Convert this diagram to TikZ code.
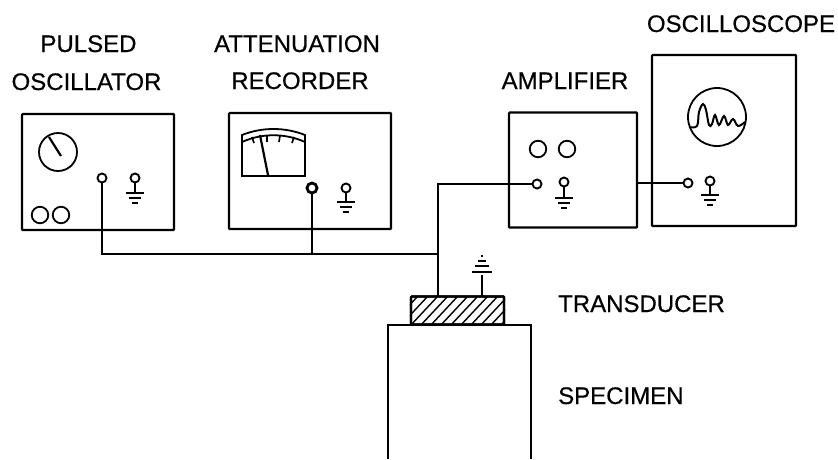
\documentclass[tikz,border=0pt]{standalone}
\usepackage{fontspec}
\setmainfont[FakeBold=0.5]{Liberation Sans}
\usetikzlibrary{calc}
\tikzset{
  panel/.style={draw, line width=2.2pt, inner sep=0pt, rounded corners=0.8pt},
  wire/.style={line width=2pt},
  term/.style={draw, circle, fill=white, line width=1.9pt, inner sep=0pt, minimum size=9pt},
  knob/.style={draw, circle, line width=1.8pt, inner sep=0pt, minimum size=16.5pt},
  dial/.style={draw, circle, line width=1.8pt, inner sep=0pt},
  lbl/.style={font=\fontsize{24}{28}\selectfont, inner sep=0pt, anchor=base},
  lblw/.style={font=\fontsize{24}{28}\selectfont, inner sep=0pt, anchor=base west}
}
% terminal with its earth bars underneath
\newcommand{\earthpost}[4]{
  \node[term] (#1) at (#2,#3) {};
  \draw[wire] (#1) -- ++(0,#4) coordinate (#1b);
  \draw[line width=1.9pt] ($(#1b)+(-9,0)$) -- ($(#1b)+(9,0)$);
  \draw[line width=1.9pt] ($(#1b)+(-6,5)$) -- ($(#1b)+(6,5)$);
  \draw[line width=2.2pt] ($(#1b)+(-3,10)$) -- ($(#1b)+(3,10)$);
}
\begin{document}
\begin{tikzpicture}[x=1pt,y=-1pt]
  \useasboundingbox (0,0) rectangle (838,459);
  % panels
  \node[panel, minimum width=152pt, minimum height=116pt] (oscbox) at (98,172) {};
  \node[panel, minimum width=162pt, minimum height=116pt] (recbox) at (310,171) {};
  \node[panel, minimum width=128pt, minimum height=115pt] (ampbox) at (573,170) {};
  \node[panel, minimum width=144pt, minimum height=171pt] (scopebox) at (724,140.5) {};
  % labels
  \node[lbl] (pulsedlbl) at (88.5,52) {PULSED};
  \node[lbl] (osclbl) at (86.5,90) {OSCILLATOR};
  \node[lbl] (attlbl) at (297,52) {ATTENUATION};
  \node[lbl] (reclbl) at (300,89) {RECORDER};
  \node[lbl] (amplbl) at (565,89) {AMPLIFIER};
  \node[lbl] (scopelbl) at (741,32) {OSCILLOSCOPE};
  \node[lblw] (translbl) at (558,312) {TRANSDUCER};
  \node[lblw] (speclbl) at (558,404) {SPECIMEN};
  % oscillator front
  \node[dial, minimum size=38pt] (oscdial) at (58,152) {};
  \draw[line width=2.2pt] (49,137) -- (61,156);
  \node[knob] (oscknoba) at (40,215) {};
  \node[knob] (oscknobb) at (61,215) {};
  \node[term] (oscout) at (102,178) {};
  \earthpost{oscgnd}{135}{178}{15}
  % recorder meter
  \draw[line width=1.8pt] (242,135) .. controls (262,127) and (285,127) .. (305,135)
    -- (305,176) -- (242,176) -- cycle;
  \draw[line width=1.8pt] (242,142) .. controls (262,133) and (285,133) .. (305,142);
  \draw[line width=1.7pt] (252,137) -- (254,143);
  \draw[line width=1.7pt] (267,135.5) -- (267,142);
  \draw[line width=1.7pt] (280,135.5) -- (279,142);
  \draw[line width=1.7pt] (294,137) -- (292,143);
  \draw[line width=2.2pt] (260,135) -- (268,175);
  \node[term, line width=2.8pt, minimum size=10pt] (recout) at (312,188) {};
  \earthpost{recgnd}{346}{188}{14}
  % amplifier front
  \node[knob] (ampknoba) at (538,149) {};
  \node[knob] (ampknobb) at (567,149) {};
  \node[term] (ampin) at (537,184) {};
  \earthpost{ampgnd}{564}{182}{16}
  % oscilloscope front
  \node[dial, minimum size=58pt] (screen) at (717,117) {};
  \draw[line width=2pt] plot[smooth, tension=0.6] coordinates {(689,127) (697,126) (699,112)
    (703,104) (706,110) (709,125) (712,124) (715,115) (719,125) (724,116) (728,125)
    (733,119) (738,126) (745,122)};
  \node[term] (scopein) at (688,183) {};
  \earthpost{scopegnd}{710}{181}{14}
  % specimen and transducer
  \draw[line width=2.4pt] (388,459) -- (388,325) -- (531,325) -- (531,459);
  \node[panel, minimum width=93pt, minimum height=28pt] (xducer) at (457.5,310.5) {};
  \begin{scope}
    \clip (xducer.south west) rectangle (xducer.north east);
    \foreach \h in {390,400,...,510}
      \draw[line width=1.4pt] (\h,326) -- (\h+28,296);
  \end{scope}
  \node[panel, minimum width=93pt, minimum height=28pt] (xducerframe) at (457.5,310.5) {};
  % wiring
  \coordinate (mainw) at (438,254);
  \coordinate (feed) at (438,296);
  \coordinate (xgnd) at (482,275);
  \coordinate (xtop) at (482,296);
  \draw[wire] (oscout) |- (mainw) -- (feed);
  \draw[wire] (recout) -- (recout |- mainw);
  \draw[wire] (ampin) -| (mainw);
  \draw[wire] (ampbox.east |- scopein) -- (scopein);
  \draw[line width=2.4pt] (xtop) -- (xgnd);
  \draw[line width=2pt] ($(xgnd)+(-10,-3)$) -- ($(xgnd)+(10,-3)$);
  \draw[line width=1.9pt] ($(xgnd)+(-7,-9)$) -- ($(xgnd)+(7,-9)$);
  \draw[line width=1.7pt] ($(xgnd)+(-4,-14)$) -- ($(xgnd)+(4,-14)$);
  \draw[line width=1.4pt] ($(xgnd)+(-1,-19)$) -- ($(xgnd)+(1,-19)$);
\end{tikzpicture}
\end{document}
